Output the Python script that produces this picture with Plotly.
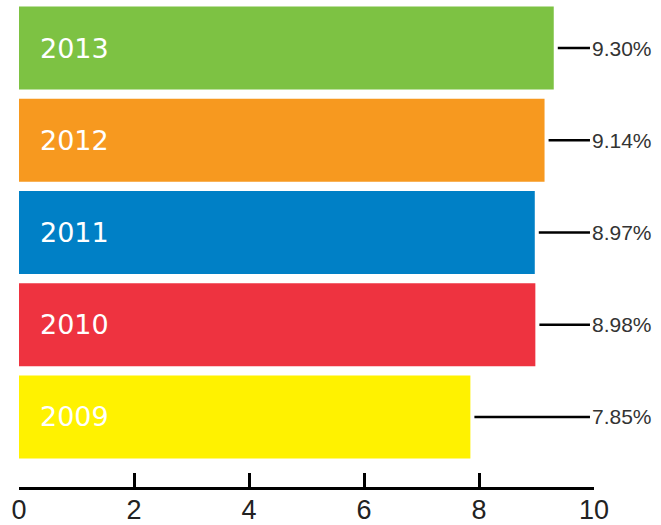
import plotly.graph_objects as go

years = ["2009", "2010", "2011", "2012", "2013"]
values = [7.85, 8.98, 8.97, 9.14, 9.30]
labels = ["7.85%", "8.98%", "8.97%", "9.14%", "9.30%"]
colors = ["#FFF200", "#EE3340", "#0080C6", "#F7991F", "#7DC243"]
tick_vals = [0, 2, 4, 6, 8, 10]

pos = list(range(len(years)))

fig = go.Figure()
fig.add_trace(go.Bar(
    x=values, y=pos, orientation="h",
    marker=dict(color=colors, line=dict(width=0)),
    width=0.9, hoverinfo="skip", showlegend=False,
))

for p, yr, v, lab in zip(pos, years, values, labels):
    fig.add_annotation(x=0, y=p, xref="x", yref="y", text=yr, showarrow=False,
                       xanchor="left", xshift=19,
                       font=dict(family="DejaVu Sans", size=27, color="white"))
    fig.add_shape(type="line", xref="x", yref="y", x0=v + 0.07, x1=9.93, y0=p, y1=p,
                  line=dict(color="black", width=2.5))
    fig.add_annotation(x=9.93, y=p, xref="x", yref="y", text=lab, showarrow=False,
                       xanchor="left", xshift=0,
                       font=dict(family="Liberation Sans", size=21, color="#333"))

fig.update_layout(
    width=661, height=525,
    margin=dict(l=19, r=67, t=2, b=38),
    paper_bgcolor="white", plot_bgcolor="white",
    xaxis=dict(range=[0, 10], tickvals=tick_vals, showgrid=False, zeroline=False,
               automargin=False,
               showline=True, linecolor="black", linewidth=2.5,
               ticks="inside", ticklen=14, tickwidth=2.5, tickcolor="black",
               ticklabelstandoff=-3,
               tickfont=dict(family="Liberation Sans Narrow, Liberation Sans", size=27, color="#222")),
    yaxis=dict(range=[-0.76, 4.5], showgrid=False, zeroline=False, showticklabels=False,
               showline=False, automargin=False),
)

fig.write_html("out.html", config={"displayModeBar": False},
               post_script="document.body.style.margin='0px';")
